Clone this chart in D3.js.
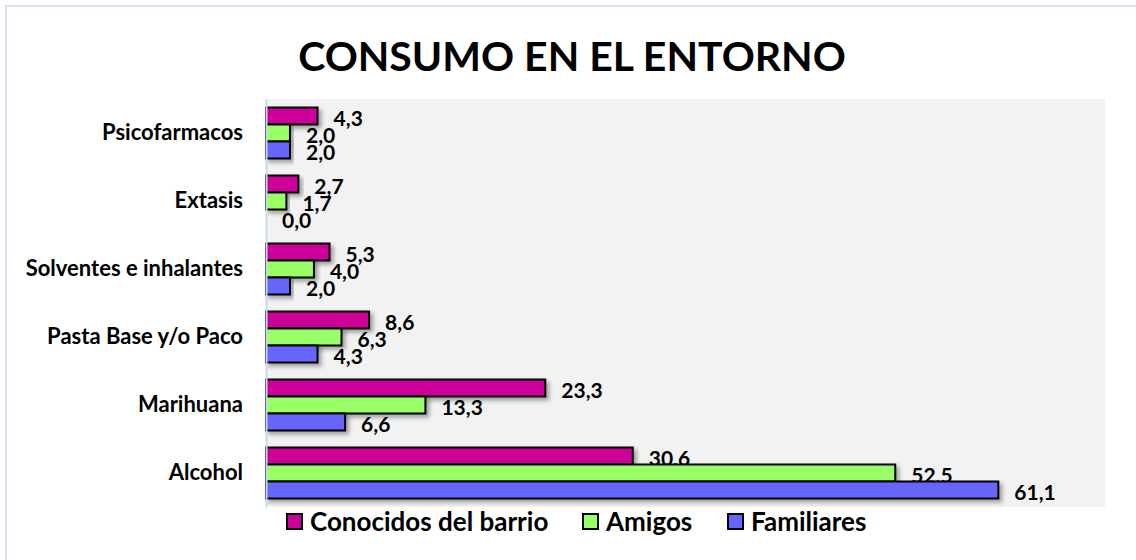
<!DOCTYPE html>
<html>
<head>
<meta charset="utf-8">
<script src="https://cdn.jsdelivr.net/npm/d3@7"></script>
<style>
  body { margin: 0; background: #fff; }
  text { font-family: Lato, "Open Sans", sans-serif; font-weight: bold; }
</style>
</head>
<body>
<svg id="chart" width="1136" height="560"></svg>
<script>
const categories = ['Psicofarmacos', 'Extasis', 'Solventes e inhalantes', 'Pasta Base y/o Paco', 'Marihuana', 'Alcohol'];
const seriesNames = ['Conocidos del barrio', 'Amigos', 'Familiares'];
const conocidos = [4.3, 2.7, 5.3, 8.6, 23.3, 30.6];
const amigos = [2.0, 1.7, 4.0, 6.3, 13.3, 52.5];
const familiares = [2.0, 0.0, 2.0, 4.3, 6.6, 61.1];
const colors = ['#cc0099', '#99ff66', '#6666ff'];

const plot = {left: 266, right: 1105, top: 99, bottom: 507};

const svg = d3.select('#chart');

// drop shadow like the spreadsheet bars
const defs = svg.append('defs');
defs.append('filter')
    .attr('id', 'shadow')
    .attr('x', '-5%').attr('y', '-30%')
    .attr('width', '120%').attr('height', '180%')
    .append('feDropShadow')
    .attr('dx', 3).attr('dy', 3)
    .attr('stdDeviation', 2)
    .attr('flood-color', '#000')
    .attr('flood-opacity', 0.35);

// chart frame (only top/left edge visible in the crop)
svg.append('rect')
   .attr('x', 6).attr('y', 6)
   .attr('width', 1140).attr('height', 560)
   .attr('fill', 'none')
   .attr('stroke', '#d9e5f4')
   .attr('stroke-width', 2);

svg.append('text')
   .attr('x', 572).attr('y', 71)
   .attr('text-anchor', 'middle')
   .attr('font-size', 41)
   .attr('fill', '#000')
   .text('CONSUMO EN EL ENTORNO');

svg.append('rect')
   .attr('x', plot.left).attr('y', plot.top)
   .attr('width', plot.right - plot.left)
   .attr('height', plot.bottom - plot.top)
   .attr('fill', '#f2f2f2');

const x = d3.scaleLinear().domain([0, 70]).range([plot.left, plot.right]);
const y = d3.scaleBand().domain(categories).range([plot.top, plot.bottom])
            .paddingInner(0.25).paddingOuter(0.125);
const ySub = d3.scaleBand().domain(seriesNames).range([0, y.bandwidth()]);

const seriesValues = [conocidos, amigos, familiares];

seriesValues.forEach(function(vals, s){
    const rows = categories.map(function(c, i){ return {cat: c, value: vals[i]}; });
    const g = svg.append('g');

    g.selectAll('rect')
     .data(rows)
     .enter()
     .append('rect')
     .attr('x', x(0))
     .attr('y', function(d){ return y(d.cat) + ySub(seriesNames[s]); })
     .attr('width', function(d){ return x(d.value) - x(0); })
     .attr('height', ySub.bandwidth())
     .attr('fill', colors[s])
     .attr('stroke', '#000')
     .attr('stroke-width', 2)
     .attr('filter', 'url(#shadow)')
     .style('display', function(d){ return d.value > 0 ? null : 'none'; });

    g.selectAll('text')
     .data(rows)
     .enter()
     .append('text')
     .attr('x', function(d){ return x(d.value) + 16; })
     .attr('y', function(d){ return y(d.cat) + ySub(seriesNames[s]) + ySub.bandwidth() / 2 + 2; })
     .attr('dy', '0.36em')
     .attr('font-size', 21)
     .attr('fill', '#000')
     .text(function(d){ return d.value.toFixed(1).replace('.', ','); });
});

const yAxis = svg.append('g')
    .attr('transform', 'translate(' + plot.left + ',0)')
    .call(d3.axisLeft(y).tickSize(0).tickPadding(23));
yAxis.select('.domain').attr('stroke', '#c9d9ee').attr('stroke-width', 2);
yAxis.selectAll('text')
     .attr('font-size', 22)
     .attr('font-family', 'Lato, sans-serif')
     .attr('font-weight', 'bold')
     .attr('fill', '#000');

// legend
const legendX = [287, 583, 728];
const legend = svg.append('g');
seriesNames.forEach(function(name, i){
    legend.append('rect')
          .attr('x', legendX[i]).attr('y', 514)
          .attr('width', 15).attr('height', 15)
          .attr('fill', colors[i])
          .attr('stroke', '#000')
          .attr('stroke-width', 2);
    legend.append('text')
          .attr('x', legendX[i] + 23).attr('y', 522)
          .attr('dy', '0.36em')
          .attr('font-size', 26)
          .attr('fill', '#000')
          .text(name);
});
</script>
</body>
</html>
